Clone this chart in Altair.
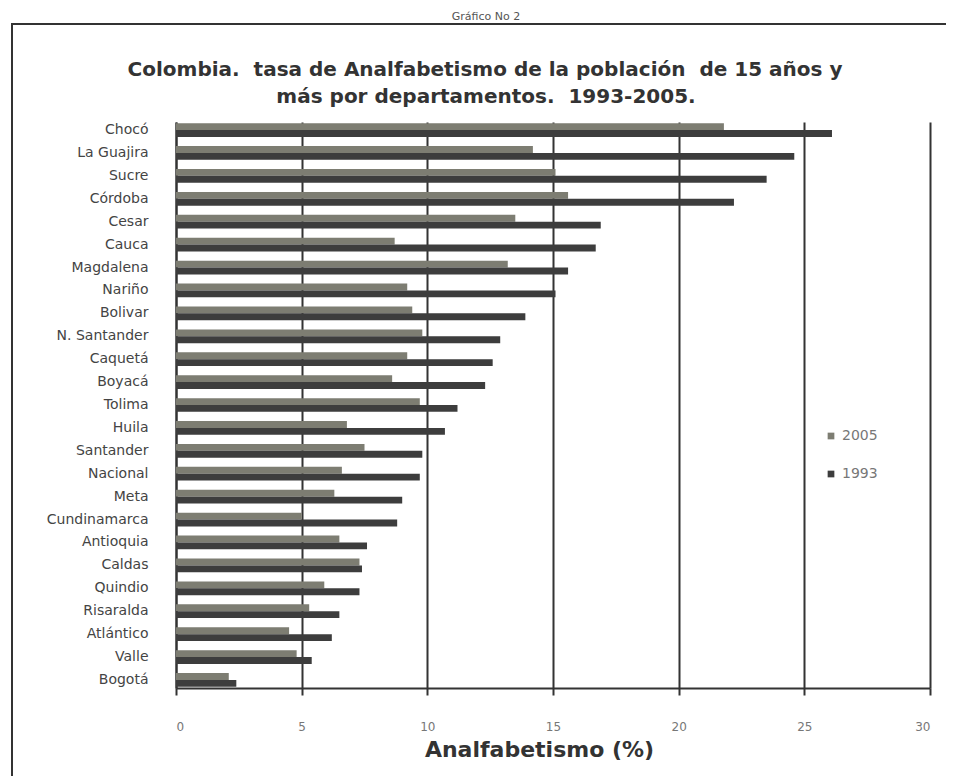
import altair as alt
import pandas as pd

departamentos = ["Chocó", "La Guajira", "Sucre", "Córdoba", "Cesar", "Cauca", "Magdalena",
                 "Nariño", "Bolivar", "N. Santander", "Caquetá", "Boyacá", "Tolima", "Huila",
                 "Santander", "Nacional", "Meta", "Cundinamarca", "Antioquia", "Caldas",
                 "Quindio", "Risaralda", "Atlántico", "Valle", "Bogotá"]
v2005 = [21.8, 14.2, 15.1, 15.6, 13.5, 8.7, 13.2, 9.2, 9.4, 9.8, 9.2, 8.6, 9.7, 6.8,
         7.5, 6.6, 6.3, 5.0, 6.5, 7.3, 5.9, 5.3, 4.5, 4.8, 2.1]
v1993 = [26.1, 24.6, 23.5, 22.2, 16.9, 16.7, 15.6, 15.1, 13.9, 12.9, 12.6, 12.3, 11.2, 10.7,
         9.8, 9.7, 9.0, 8.8, 7.6, 7.4, 7.3, 6.5, 6.2, 5.4, 2.4]
years = ["2005", "1993"]
x_ticks = [0, 5, 10, 15, 20, 25, 30]
title_line1 = "Colombia.\u00a0 tasa de Analfabetismo de la población\u00a0 de 15 años y"
title_line2 = "más por departamentos.\u00a0 1993-2005."
top_caption = "Gráfico No 2"

rows = []
for d, a, b in zip(departamentos, v2005, v1993):
    rows.append({"dep": d, "year": "2005", "val": a})
    rows.append({"dep": d, "year": "1993", "val": b})
df = pd.DataFrame(rows)

FONT = "DejaVu Sans"

bars = alt.Chart(df).mark_bar().encode(
    y=alt.Y("dep:N", sort=departamentos,
            scale=alt.Scale(paddingInner=0.4, paddingOuter=0.05),
            axis=alt.Axis(title=None, ticks=False, domain=True, domainColor="#333",
                          domainWidth=2, labelPadding=28, labelFontSize=14,
                          labelColor="#444", labelFont=FONT)),
    yOffset=alt.YOffset("year:N", sort=years),
    x=alt.X("val:Q", scale=alt.Scale(domain=[0, 30], nice=False),
            axis=alt.Axis(values=x_ticks, grid=True, gridColor="#333", gridWidth=2,
                          gridOpacity=1, domainColor="#333", domainWidth=2,
                          tickColor="#333", tickWidth=2, tickSize=7,
                          labelPadding=26, labelFontSize=12, labelColor="#777",
                          labelFont=FONT, title="Analfabetismo (%)",
                          titleFontSize=22, titleFont=FONT, titleFontWeight="bold",
                          titleColor="#333", titlePadding=7, titleX=363)),
    color=alt.Color("year:N", sort=years,
                    scale=alt.Scale(domain=years, range=["#7d7d72", "#3d3d3d"]),
                    legend=alt.Legend(title=None, orient="none", legendX=648, legendY=307,
                                      symbolType="square", symbolSize=45,
                                      labelFontSize=14, labelColor="#777", labelFont=FONT,
                                      rowPadding=24)),
)

border = alt.Chart(alt.Data(values=[{}])).mark_rect(
    filled=False, stroke="#333", strokeWidth=2
).encode(
    x=alt.value(-164), x2=alt.value(900), y=alt.value(-98), y2=alt.value(800)
)

caption = alt.Chart(alt.Data(values=[{"t": top_caption}])).mark_text(
    font=FONT, fontSize=11, color="#555", baseline="alphabetic", align="center"
).encode(text="t:N", x=alt.value(310), y=alt.value(-102))

t1 = alt.Chart(alt.Data(values=[{"t": title_line1}])).mark_text(
    font=FONT, fontSize=20, fontWeight="bold", color="#333", baseline="middle", align="center"
).encode(text="t:N", x=alt.value(309), y=alt.value(-52))

t2 = alt.Chart(alt.Data(values=[{"t": title_line2}])).mark_text(
    font=FONT, fontSize=20, fontWeight="bold", color="#333", baseline="middle", align="center"
).encode(text="t:N", x=alt.value(310), y=alt.value(-25))

chart = alt.layer(border, caption, t1, t2, bars).properties(
    width=754, height=566,
    autosize=alt.AutoSizeParams(type="none"),
    padding={"left": 168, "top": 114, "right": 16, "bottom": 88},
).configure_view(stroke=None)

chart.save("out.html", embed_options={"renderer": "svg", "actions": False})
